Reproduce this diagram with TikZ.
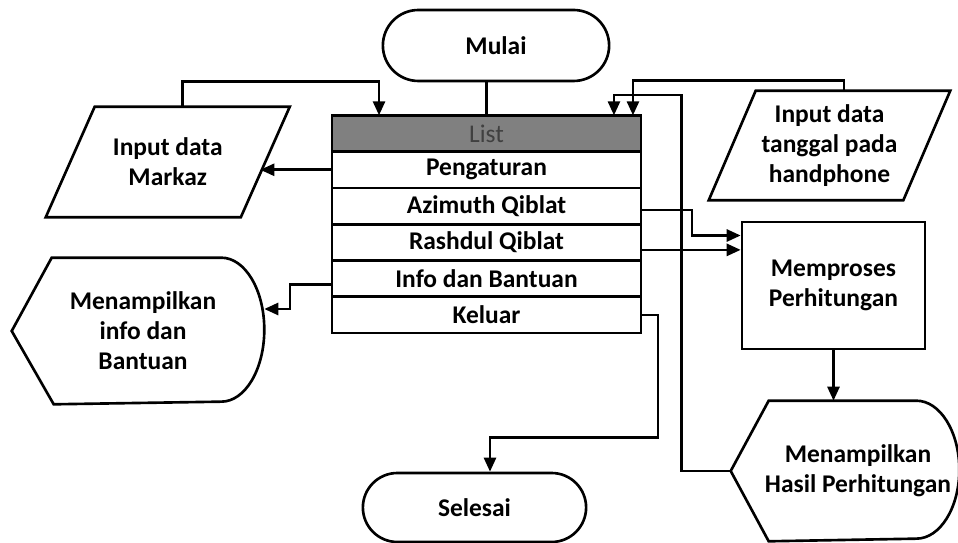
\documentclass[tikz,border=0pt]{standalone}
\usepackage{fontspec}
\setmainfont{Carlito}
\usetikzlibrary{shapes.misc,arrows.meta,positioning}

\begin{document}
\begin{tikzpicture}[x=0.02cm,y=-0.02cm,line width=1.5pt,
  font=\fontsize{14.5}{17}\selectfont\bfseries,
  term/.style={draw,rounded rectangle,minimum width=4.76cm,minimum height=1.42cm},
  row/.style={draw,minimum width=6.18cm,minimum height=0.726cm,inner sep=0pt,outer sep=0pt},
  txt/.style={align=center,inner sep=0pt},
  arr/.style={-{Triangle[length=0.28cm,width=0.24cm]}}]
\useasboundingbox (0,0) rectangle (958,543);
\node [term] (mulai) at (496,45.5) {Mulai};
\node [row,fill=black!50,text=black!75,font=\fontsize{14.5}{17}\selectfont] (hdr) at (486.5,133.5) {List};
\node [row,below=0pt of hdr] (pengaturan) {Pengaturan};
\node [row,below=0pt of pengaturan] (azimuth) {Azimuth Qiblat};
\node [row,below=0pt of azimuth] (rashdul) {Rashdul Qiblat};
\node [row,below=0pt of rashdul] (infobantu) {Info dan Bantuan};
\node [row,below=0pt of infobantu] (keluar) {Keluar};
\node [txt,minimum width=3.85cm,minimum height=2.16cm] (markaz) at (167.75,162) {Input data\\Markaz};
\node [txt,minimum width=3.84cm,minimum height=2.14cm] (tanggal) at (829.5,145.5) {Input data\\tanggal pada\\handphone};
\node [draw,minimum width=3.66cm,minimum height=2.54cm,align=center] (proses) at (833.5,285.5) {Memproses\\Perhitungan};
\node [txt,minimum width=4cm,minimum height=2.76cm] (tampilhasil) at (858,471) {Menampilkan\\Hasil Perhitungan};
\node [txt,minimum width=4.8cm,minimum height=2.88cm] (tampilinfo) at (143,331) {Menampilkan\\info dan\\Bantuan};
\node [term,minimum width=4.7cm,minimum height=1.38cm] (selesai) at (474.5,507.5) {Selesai};

\draw ([xshift=0.49cm]markaz.north west) -- ([xshift=0.49cm]markaz.north east) -- ([xshift=-0.49cm]markaz.south east) -- ([xshift=-0.49cm]markaz.south west) -- cycle;
\draw ([xshift=0.47cm]tanggal.north west) -- ([xshift=0.47cm]tanggal.north east) -- ([xshift=-0.47cm]tanggal.south east) -- ([xshift=-0.47cm]tanggal.south west) -- cycle;
\coordinate (hasiltip) at ([xshift=-0.52cm]tampilhasil.west);
\coordinate (infotip) at ([xshift=-0.2cm]tampilinfo.west);
\draw (hasiltip) -- ([xshift=0.24cm]tampilhasil.north west) -- ([xshift=-0.86cm]tampilhasil.north east) arc[start angle=90,end angle=-90,x radius=0.86cm,y radius=1.38cm] -- ([xshift=0.24cm]tampilhasil.south west) -- cycle;
\draw (infotip) -- ([xshift=0.6cm]tampilinfo.north west) -- ([xshift=-0.86cm]tampilinfo.north east) arc[start angle=90,end angle=-90,x radius=0.86cm,y radius=1.44cm] -- ([xshift=0.64cm]tampilinfo.south west) -- cycle;

\draw (hdr.north |- mulai.south) -- (hdr.north);
\draw [arr] ([xshift=0.29cm]markaz.north) -- ++(0,-25) -| ([xshift=0.94cm]hdr.north west);
\draw [arr] ([xshift=0.29cm]tanggal.north) -- ++(0,-10) -| ([xshift=-0.16cm]hdr.north east);
\draw [arr] (hasiltip) -- ++(-49,0) -- ++(0,-376) -| ([xshift=-0.54cm]hdr.north east);
\draw [arr] (pengaturan.west) -- ([xshift=-0.1cm]pengaturan.west -| markaz.east);
\draw [arr] ([yshift=-0.08cm]azimuth.east) -- ++(51,0) |- ([yshift=1cm]proses.west);
\draw [arr] ([yshift=-0.15cm]rashdul.east) -- ([yshift=-0.15cm]rashdul.east -| proses.west);
\draw [arr] (proses.south) -- (proses.south |- tampilhasil.north);
\draw [arr] ([yshift=-0.12cm]infobantu.west) -- ++(-42,0) |- ([yshift=0.44cm]tampilinfo.east);
\draw [arr] (keluar.east) -- ++(17,0) -- ++(0,122.5) -| ([xshift=0.31cm]selesai.north);
\end{tikzpicture}
\end{document}
